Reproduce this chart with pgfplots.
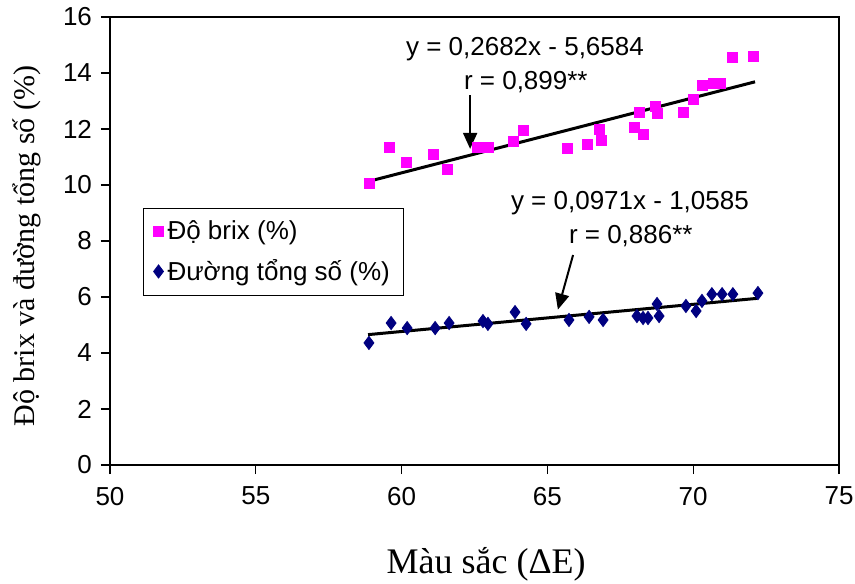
\documentclass[border=0pt]{standalone}
\usepackage{fontspec}
\setmainfont{Liberation Serif}
\newfontfamily\arial{Liberation Sans}
\usepackage{pgfplots}
\pgfplotsset{compat=1.18}
\usetikzlibrary{arrows.meta}
\definecolor{brixpink}{RGB}{255,0,255}
\definecolor{sugarnavy}{RGB}{0,0,128}
\newcommand{\annfont}{\arial\fontsize{13}{15}\selectfont}

\begin{document}
\begin{tikzpicture}
\begin{axis}[
  scale only axis,
  width=364.5pt, height=224pt,
  xmin=50, xmax=75, ymin=0, ymax=16,
  xtick={50,55,...,75},
  ytick={0,2,...,16},
  tick pos=left,
  tick align=outside,
  major tick length=4.5pt,
  axis line style={line width=0.6pt},
  tick style={black, line width=0.6pt},
  ticklabel style={font=\annfont},
  /pgf/number format/assume math mode=true,
  xticklabel style={yshift=-3pt},
  yticklabel style={xshift=-1pt},
  xlabel={Màu sắc (ΔE)},
  ylabel={Độ brix và đường tổng số (\%)},
  xlabel style={font=\fontsize{18}{20}\selectfont, at={(axis description cs:0.516,-0.221)}, anchor=center},
  ylabel style={font=\fontsize{15}{17}\selectfont, at={(axis description cs:-0.114,0.489)}, anchor=center},
  legend style={
    at={(axis cs:51.13,9.18)}, anchor=north west,
    draw=black, line width=0.6pt,
    font=\annfont,
    inner xsep=5pt, inner ysep=4pt,
    row sep=4.5pt,
    cells={anchor=west},
  },
  legend image post style={line width=0.4pt},
  clip=false,
]
\coordinate (bl) at (rel axis cs:0,0);
\coordinate (tr) at (rel axis cs:1,1);
\addplot[only marks, mark=square*, mark size=2.5pt, color=brixpink] coordinates {
  (58.88,10.07) (59.57,11.36) (60.15,10.82) (61.08,11.11) (61.56,10.54)
  (62.59,11.36) (62.96,11.36) (63.82,11.54) (64.16,11.96) (65.67,11.32)
  (66.36,11.46) (66.77,12.00) (66.84,11.61) (68.00,12.04) (68.14,12.61)
  (68.28,11.82) (68.72,12.82) (68.76,12.57) (69.65,12.61) (69.99,13.04)
  (70.30,13.54) (70.68,13.64) (70.92,13.64) (71.33,14.54) (72.08,14.61)
};
\addlegendentry{Độ brix (\%)}
\addplot[only marks, mark=diamond*, mark size=3.3pt, color=sugarnavy] coordinates {
  (58.88,4.36) (59.64,5.07) (60.19,4.89) (61.15,4.89) (61.63,5.07)
  (62.79,5.14) (62.96,5.04) (63.89,5.46) (64.27,5.04) (65.74,5.18)
  (66.43,5.29) (66.91,5.18) (68.07,5.32) (68.28,5.25) (68.45,5.25)
  (68.76,5.75) (68.83,5.32) (69.75,5.68) (70.10,5.50) (70.30,5.86)
  (70.64,6.10) (70.99,6.10) (71.36,6.10) (72.22,6.14)
};
\addlegendentry{Đường tổng số (\%)}
% trend lines
\addplot[black, line width=1.5pt, forget plot] coordinates {(58.85,10.125) (72.12,13.685)};
\addplot[black, line width=1.5pt, forget plot] coordinates {(58.85,4.656) (72.20,5.952)};
% top and right frame
\draw[line width=0.6pt] (rel axis cs:0,1) -- (rel axis cs:1,1) -- (rel axis cs:1,0);
% annotations
\node[font=\annfont] at (axis cs:64.23,14.86) {y = 0,2682x - 5,6584};
\node[font=\annfont] at (axis cs:64.26,13.68) {r = 0,899**};
\draw[line width=1pt, -{Triangle[length=8pt, width=7pt]}] (axis cs:62.35,13.21) -- (axis cs:62.35,11.29);
\node[font=\annfont] at (axis cs:67.83,9.36) {y = 0,0971x - 1,0585};
\node[font=\annfont] at (axis cs:67.86,8.18) {r = 0,886**};
\draw[line width=1pt, -{Triangle[length=8pt, width=7pt]}] (axis cs:65.88,7.50) -- (axis cs:65.36,5.55);
\end{axis}
\pgfresetboundingbox
\path[use as bounding box] ([shift={(-55pt,-59pt)}]bl) rectangle ([shift={(8pt,8.5pt)}]tr);
\end{tikzpicture}
\end{document}
